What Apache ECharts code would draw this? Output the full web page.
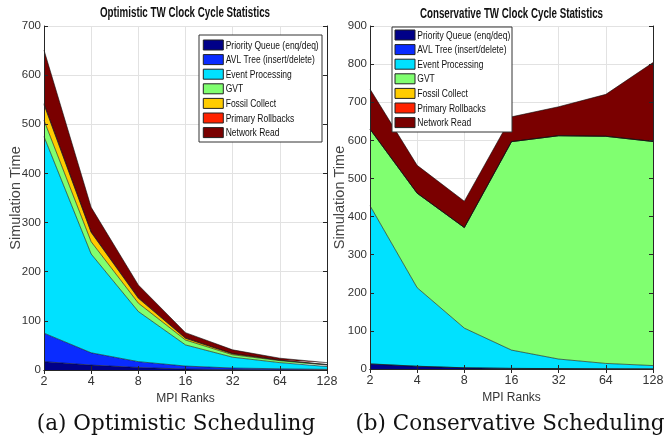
<!DOCTYPE html>
<html>
<head>
<meta charset="utf-8">
<script src="https://cdn.jsdelivr.net/npm/echarts@6/dist/echarts.min.js"></script>
<style>
  html, body { margin: 0; padding: 0; background: #ffffff; }
  #chart { width: 672px; height: 438px; }
</style>
</head>
<body>
<div id="chart"></div>
<script>
// MPI rank counts along the x axis
const ranks = ['2', '4', '8', '16', '32', '64', '128'];

// Component names, bottom to top of each stack
const components = [
  'Priority Queue (enq/deq)',
  'AVL Tree (insert/delete)',
  'Event Processing',
  'GVT',
  'Fossil Collect',
  'Primary Rollbacks',
  'Network Read'
];

// Optimistic scheduling: simulation time per component
const optPriorityQueue = [17, 10, 5, 2, 1, 0.5, 0.3];
const optAvlTree       = [58, 25, 12, 6, 3, 2, 1];
const optEvent         = [400, 201, 102, 43, 22, 12.5, 5.7];
const optGvt           = [33, 25, 17, 10, 5, 4, 3];
const optFossil        = [32, 19, 10, 3.5, 2, 1, 1];
const optRollbacks     = [2, 1, 1, 0.5, 0.3, 0.2, 0.1];
const optNetwork       = [109, 50, 26, 11, 7.7, 3.8, 3.9];

// Conservative scheduling: simulation time per component
const conPriorityQueue = [13, 7, 3, 1.5, 1, 0.5, 0.3];
const conAvlTree       = [0.5, 0.3, 0.2, 0.1, 0.1, 0.1, 0.1];
const conEvent         = [415, 206, 104, 48, 25, 14, 8.6];
const conGvt           = [201, 248, 264, 547, 586, 596, 588];
const conFossil        = [0, 0, 0, 0, 0, 0, 0];
const conRollbacks     = [0, 0, 0, 0, 0, 0, 0];
const conNetwork       = [105, 73, 69, 65, 76, 110, 207];

// Y axis ticks
const optTicks = { min: 0, max: 700, interval: 100 };
const conTicks = { min: 0, max: 900, interval: 100 };

const colors = ['#000088', '#0a2cff', '#00e1ff', '#80ff70', '#ffcc00', '#ff2200', '#7a0000'];
const optData = [optPriorityQueue, optAvlTree, optEvent, optGvt, optFossil, optRollbacks, optNetwork];
const conData = [conPriorityQueue, conAvlTree, conEvent, conGvt, conFossil, conRollbacks, conNetwork];

const SANS = '"Liberation Sans", Arial, sans-serif';
const TXT = '#333333';
const AX = '#262626';
const GRIDC = '#e2e2e2';

// Condensed text: measure the natural width and squeeze horizontally to a target width
const measureCtx = document.createElement('canvas').getContext('2d');
function textWidth(text, font) {
  measureCtx.font = font;
  return measureCtx.measureText(text).width;
}

// Axes per grid: [0] bottom (labels), [1] top (box edge), [2] grid lines behind the areas
function xAxes(gi) {
  return [
    {
      type: 'category', gridIndex: gi, data: ranks, boundaryGap: false,
      name: 'MPI Ranks', nameLocation: 'middle', nameGap: 23, nameMoveOverlap: false,
      nameTextStyle: { fontFamily: SANS, fontSize: 12, color: TXT },
      axisLine: { lineStyle: { color: AX, width: 1 } },
      axisTick: { inside: true, length: 4, alignWithLabel: true, lineStyle: { color: AX } },
      axisLabel: { fontFamily: SANS, fontSize: 12.5, color: TXT, margin: 5 },
      splitLine: { show: false }, z: 10
    },
    {
      type: 'category', gridIndex: gi, data: ranks, boundaryGap: false, position: 'top',
      axisLine: { lineStyle: { color: AX, width: 1 } },
      axisTick: { inside: true, length: 4, lineStyle: { color: AX } },
      axisLabel: { show: false }, splitLine: { show: false }, z: 10
    },
    {
      type: 'category', gridIndex: gi, data: ranks, boundaryGap: false, position: 'bottom',
      axisLine: { show: false }, axisTick: { show: false }, axisLabel: { show: false },
      splitLine: { show: true, lineStyle: { color: GRIDC, width: 1 } }, z: 0
    }
  ];
}
function yAxes(gi, t, gap) {
  return [
    {
      type: 'value', gridIndex: gi, min: t.min, max: t.max, interval: t.interval,
      name: 'Simulation Time', nameLocation: 'middle', nameGap: gap, nameMoveOverlap: false,
      nameTextStyle: { fontFamily: SANS, fontSize: 14.5, color: '#444' },
      axisLine: { show: true, lineStyle: { color: AX, width: 1 } },
      axisTick: { show: true, inside: true, length: 4, lineStyle: { color: AX } },
      axisLabel: { fontFamily: SANS, fontSize: 11.5, color: TXT, margin: 3 },
      splitLine: { show: false }, z: 10
    },
    {
      type: 'value', gridIndex: gi, min: t.min, max: t.max, interval: t.interval, position: 'right',
      axisLine: { show: true, lineStyle: { color: AX, width: 1 } },
      axisTick: { show: true, inside: true, length: 4, lineStyle: { color: AX } },
      axisLabel: { show: false }, splitLine: { show: false }, z: 10
    },
    {
      type: 'value', gridIndex: gi, min: t.min, max: t.max, interval: t.interval, position: 'left',
      axisLine: { show: false }, axisTick: { show: false }, axisLabel: { show: false },
      splitLine: { show: true, lineStyle: { color: GRIDC, width: 1 } }, z: 0
    }
  ];
}

function stackSeries(data, gi, stackName) {
  return components.map((name, i) => ({
    name: name, type: 'line', stack: stackName,
    xAxisIndex: gi * 3, yAxisIndex: gi * 3,
    data: data[i], showSymbol: false, symbol: 'none', silent: true,
    lineStyle: { color: '#111', width: 0.6 },
    itemStyle: { color: colors[i] },
    areaStyle: { color: colors[i], opacity: 1 },
    z: 2
  }));
}

// Boxed legend with narrow lettering
const LEGEND_FONT = '11px "Liberation Sans", Arial, sans-serif';
function legendBox(left, top, w, h, padTop, swatchX, textX, textW) {
  const natural = textWidth(components[0], LEGEND_FONT);
  const sx = textW / natural;
  const children = [{
    type: 'rect', z: 100, shape: { x: 0, y: 0, width: w, height: h },
    style: { fill: '#ffffff', stroke: '#333', lineWidth: 1 }
  }];
  components.forEach((name, i) => {
    const y = padTop + i * 14.6;
    children.push({
      type: 'rect', z: 101, shape: { x: swatchX, y: y, width: 20, height: 10 },
      style: { fill: colors[i], stroke: '#222', lineWidth: 1 }
    });
    children.push({
      type: 'text', z: 101, x: textX, y: y + 5.5, scaleX: sx,
      style: { text: name, font: LEGEND_FONT, fill: '#111', textAlign: 'left', textVerticalAlign: 'middle' }
    });
  });
  return { type: 'group', x: left, y: top, z: 100, silent: true, children: children };
}

const TITLE_FONT = 'bold 14px "Liberation Sans", Arial, sans-serif';
function titleText(text, cx, cy, targetW) {
  return {
    type: 'text', x: cx, y: cy, z: 100, silent: true,
    scaleX: targetW / textWidth(text, TITLE_FONT),
    style: { text: text, font: TITLE_FONT, fill: '#111', textAlign: 'center', textVerticalAlign: 'middle' }
  };
}

const CAPTION = { fontFamily: '"DejaVu Serif", "Liberation Serif", serif', fontSize: 21.5, fontWeight: 'normal', color: '#111' };

const chart = echarts.init(document.getElementById('chart'), null, { renderer: 'canvas' });
chart.setOption({
  animation: false,
  backgroundColor: '#ffffff',
  color: colors,
  title: [
    { text: '(a) Optimistic Scheduling', left: 171, top: 408, textAlign: 'center', textStyle: CAPTION },
    { text: '(b) Conservative Scheduling', left: 505, top: 408, textAlign: 'center', textStyle: CAPTION }
  ],
  grid: [
    { left: 44, top: 26, width: 283, height: 344, containLabel: false },
    { left: 370, top: 26, width: 283, height: 343, containLabel: false }
  ],
  xAxis: [].concat(xAxes(0), xAxes(1)),
  yAxis: [].concat(yAxes(0, optTicks, 20.5), yAxes(1, conTicks, 22.5)),
  series: [].concat(stackSeries(optData, 0, 'opt'), stackSeries(conData, 1, 'con')),
  graphic: [
    titleText('Optimistic TW Clock Cycle Statistics', 185, 13.5, 170),
    titleText('Conservative TW Clock Cycle Statistics', 511.5, 14.5, 183),
    legendBox(199, 35, 123, 107, 5, 4.3, 26.7, 93),
    legendBox(392, 27, 120, 105, 3, 3, 25.3, 93)
  ]
});
</script>
</body>
</html>
